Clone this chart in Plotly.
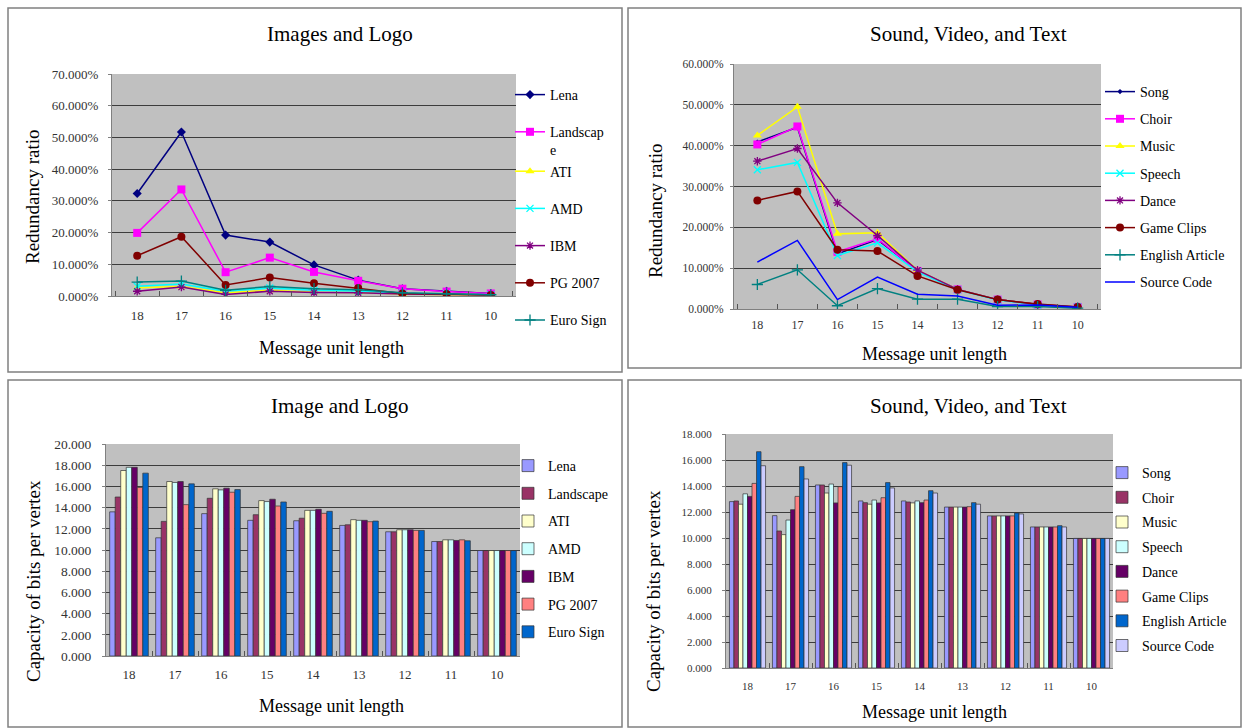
import plotly.graph_objects as go

W, H = 1243, 728

lengths = ["18", "17", "16", "15", "14", "13", "12", "11", "10"]

# ---- Panel 1: redundancy ratio, images and logo (fractions) ----
img_names = ["Lena", "Landscap<br>e", "ATI", "AMD", "IBM", "PG 2007", "Euro Sign"]
red_lena = [0.323, 0.517, 0.192, 0.170, 0.098, 0.050, 0.023, 0.015, 0.008]
red_landscape = [0.199, 0.336, 0.075, 0.121, 0.076, 0.048, 0.023, 0.014, 0.008]
red_ati = [0.026, 0.030, 0.010, 0.018, 0.012, 0.011, 0.006, 0.004, 0.002]
red_amd = [0.031, 0.038, 0.015, 0.025, 0.018, 0.016, 0.009, 0.007, 0.004]
red_ibm = [0.015, 0.028, 0.005, 0.015, 0.011, 0.010, 0.006, 0.005, 0.003]
red_pg = [0.127, 0.187, 0.035, 0.058, 0.040, 0.025, 0.008, 0.006, 0.003]
red_euro = [0.044, 0.047, 0.018, 0.030, 0.023, 0.020, 0.010, 0.007, 0.004]

# ---- Panel 2: redundancy ratio, sound/video/text ----
svt_names = ["Song", "Choir", "Music", "Speech", "Dance", "Game Clips",
             "English Article", "Source Code"]
red_song = [0.409, 0.445, 0.135, 0.170, 0.094, 0.048, 0.023, 0.011, 0.005]
red_choir = [0.403, 0.447, 0.140, 0.172, 0.093, 0.048, 0.023, 0.011, 0.005]
red_music = [0.425, 0.495, 0.184, 0.187, 0.095, 0.048, 0.023, 0.011, 0.005]
red_speech = [0.341, 0.359, 0.131, 0.162, 0.091, 0.047, 0.022, 0.010, 0.005]
red_dance = [0.362, 0.393, 0.260, 0.180, 0.095, 0.048, 0.023, 0.011, 0.005]
red_game = [0.266, 0.288, 0.145, 0.142, 0.081, 0.047, 0.023, 0.012, 0.005]
red_english = [0.060, 0.096, 0.008, 0.050, 0.024, 0.024, 0.006, 0.006, 0.002]
red_source = [0.115, 0.168, 0.023, 0.078, 0.036, 0.032, 0.009, 0.010, 0.004]

# ---- Panel 3: capacity, image and logo ----
cap_lena = [13.6, 11.15, 13.43, 12.8, 12.76, 12.32, 11.72, 10.8, 9.95]
cap_landscape = [15.0, 12.7, 14.88, 13.33, 13.0, 12.38, 11.72, 10.8, 9.95]
cap_ati = [17.5, 16.46, 15.77, 14.66, 13.74, 12.86, 11.91, 10.96, 9.95]
cap_amd = [17.8, 16.37, 15.67, 14.57, 13.74, 12.8, 11.91, 10.96, 9.95]
cap_ibm = [17.8, 16.46, 15.83, 14.79, 13.84, 12.8, 11.91, 10.9, 9.95]
cap_pg = [15.9, 14.28, 15.45, 14.15, 13.46, 12.67, 11.85, 10.96, 9.95]
cap_euro = [17.25, 16.24, 15.7, 14.53, 13.65, 12.73, 11.85, 10.87, 9.95]

# ---- Panel 4: capacity, sound/video/text ----
cap_song = [12.8, 11.72, 14.08, 12.85, 12.85, 12.38, 11.7, 10.85, 9.97]
cap_choir = [12.85, 10.54, 14.08, 12.72, 12.77, 12.38, 11.7, 10.85, 9.97]
cap_music = [12.6, 10.26, 13.46, 12.6, 12.7, 12.38, 11.7, 10.85, 9.97]
cap_speech = [13.4, 11.38, 14.15, 12.92, 12.85, 12.38, 11.7, 10.85, 9.97]
cap_dance = [13.2, 12.18, 12.7, 12.7, 12.72, 12.38, 11.7, 10.85, 9.97]
cap_game = [14.2, 13.2, 13.95, 13.1, 12.92, 12.41, 11.7, 10.85, 9.97]
cap_english = [16.64, 15.49, 15.8, 14.26, 13.64, 12.72, 11.92, 10.95, 9.97]
cap_source = [15.56, 14.54, 15.6, 13.85, 13.46, 12.6, 11.85, 10.85, 9.97]

SERIF = "Liberation Serif"

def px_x(v):
    return v / W

def px_y(v):
    return 1 - v / H

fig = go.Figure()

img_line_styles = [
    ("#000080", "diamond", 7),
    ("#FF00FF", "square", 8),
    ("#FFFF00", "triangle-up", 8),
    ("#00FFFF", "x-thin-open", 7),
    ("#800080", "asterisk-open", 7),
    ("#800000", "circle", 8),
    ("#008080", "cross-thin-open", 8),
]
img_groups = ["a0", "a1", "a1", "a3", "a4", "a5", "a6"]
img_red = [red_lena, red_landscape, red_ati, red_amd, red_ibm, red_pg, red_euro]
for i, (name, vals, (c, sym, sz)) in enumerate(zip(img_names, img_red, img_line_styles)):
    marker = dict(color=c, symbol=sym, size=sz)
    if "open" in sym:
        marker["line"] = dict(color=c, width=1.3)
    fig.add_trace(go.Scatter(
        x=lengths, y=vals, name=name, mode="lines+markers",
        line=dict(color=c, width=1.5), marker=marker,
        xaxis="x", yaxis="y", legend="legend", legendgroup=img_groups[i]))

svt_line_styles = [
    ("#000080", "diamond", 4),
    ("#FF00FF", "square", 8),
    ("#FFFF00", "triangle-up", 8),
    ("#00FFFF", "x-thin-open", 7),
    ("#800080", "asterisk-open", 7),
    ("#800000", "circle", 8),
    ("#008080", "cross-thin-open", 8),
    ("#0000FF", None, 0),
]
svt_red = [red_song, red_choir, red_music, red_speech, red_dance, red_game,
           red_english, red_source]
for i in range(len(svt_names)):
    name, vals, (c, sym, sz) = svt_names[i], svt_red[i], svt_line_styles[i]
    if sym is None:
        fig.add_trace(go.Scatter(
            x=lengths, y=vals, name=name, mode="lines",
            line=dict(color=c, width=1.5),
            xaxis="x2", yaxis="y2", legend="legend2", legendgroup="b%d" % i))
    else:
        marker = dict(color=c, symbol=sym, size=sz)
        if "open" in sym:
            marker["line"] = dict(color=c, width=1.3)
        fig.add_trace(go.Scatter(
            x=lengths, y=vals, name=name, mode="lines+markers",
            line=dict(color=c, width=1.5), marker=marker,
            xaxis="x2", yaxis="y2", legend="legend2", legendgroup="b%d" % i))

bar_colors_img = ["#9999FF", "#993366", "#FFFFCC", "#CCFFFF", "#660066", "#FF8080", "#0066CC"]
img_bar_names = ["Lena", "Landscape", "ATI", "AMD", "IBM", "PG 2007", "Euro Sign"]
img_cap = [cap_lena, cap_landscape, cap_ati, cap_amd, cap_ibm, cap_pg, cap_euro]
for i, (name, vals, c) in enumerate(zip(img_bar_names, img_cap, bar_colors_img)):
    fig.add_trace(go.Bar(
        x=lengths, y=vals, name=name,
        marker=dict(color=c, line=dict(color="#333333", width=0.7)),
        xaxis="x3", yaxis="y3", legend="legend3", legendgroup="c%d" % i))

bar_colors_svt = ["#9999FF", "#993366", "#FFFFCC", "#CCFFFF", "#660066", "#FF8080",
                  "#0066CC", "#CCCCFF"]
svt_cap = [cap_song, cap_choir, cap_music, cap_speech, cap_dance, cap_game,
           cap_english, cap_source]
for i, (name, vals, c) in enumerate(zip(svt_names, svt_cap, bar_colors_svt)):
    fig.add_trace(go.Bar(
        x=lengths, y=vals, name=name,
        marker=dict(color=c, line=dict(color="#333333", width=0.7)),
        xaxis="x4", yaxis="y4", legend="legend4", legendgroup="d%d" % i))

PLOT_BG = "#C0C0C0"
GRID = "#3C3C3C"

def xax(domain, anchor, size, standoff):
    return dict(domain=domain, anchor=anchor, type="category",
                categoryorder="array", categoryarray=lengths,
                showgrid=False, showline=True, linecolor="#808080", linewidth=1,
                ticks="inside", tickson="boundaries", ticklen=5, tickcolor="#555555",
                ticklabelstandoff=standoff, automargin=False,
                tickfont=dict(family=SERIF, size=size, color="#333333"),
                mirror=False, zeroline=False, fixedrange=True)

def yax(domain, anchor, rng, dtick, fmt, size, standoff):
    return dict(domain=domain, anchor=anchor, range=rng, dtick=dtick, tickformat=fmt,
                showgrid=True, gridcolor=GRID, gridwidth=1,
                showline=True, linecolor="#808080", linewidth=1,
                ticks="outside", ticklen=3, tickcolor="#808080",
                ticklabelstandoff=standoff, automargin=False,
                tickfont=dict(family=SERIF, size=size, color="#333333"),
                zeroline=False, fixedrange=True)

# plot areas in pixels (left, right, top, bottom)
p1 = (112, 516, 74, 296)
p2 = (734, 1101, 64, 309)
p3 = (106, 520, 444, 656)
p4 = (726, 1113, 434, 668)

def dom(p):
    return [px_x(p[0]), px_x(p[1])], [px_y(p[3]), px_y(p[2])]

d1x, d1y = dom(p1)
d2x, d2y = dom(p2)
d3x, d3y = dom(p3)
d4x, d4y = dom(p4)

def legend_cfg(x, y, size, gap):
    return dict(x=px_x(x), y=px_y(y), xanchor="left", yanchor="top",
                font=dict(family=SERIF, size=size, color="#000000"),
                bgcolor="rgba(0,0,0,0)", tracegroupgap=gap, itemwidth=30,
                traceorder="grouped", valign="top", itemclick=False)

annotations = []
def ann(text, x, y, size, angle=0):
    annotations.append(dict(text=text, x=px_x(x), y=px_y(y), xref="paper", yref="paper",
                            showarrow=False, textangle=angle,
                            font=dict(family=SERIF, size=size, color="#000000"),
                            xanchor="center", yanchor="middle"))

ann("Images and Logo", 340, 34, 21)
ann("Sound, Video, and Text", 968, 34, 21)
ann("Image and Logo", 340, 406, 21)
ann("Sound, Video, and Text", 968, 406, 21)
ann("Redundancy ratio", 33, 197, 19, -90)
ann("Message unit length", 331, 348, 18)
ann("Redundancy ratio", 655, 211, 19, -90)
ann("Message unit length", 935, 354, 18)
ann("Capacity of bits per vertex", 33, 581, 19, -90)
ann("Message unit length", 331, 706, 18)
ann("Capacity of bits per vertex", 653, 591, 19, -90)
ann("Message unit length", 935, 712, 18)

shapes = []
for (x0, x1, y0, y1) in [(8, 622, 8, 372), (628, 1241, 8, 368),
                         (8, 622, 380, 727), (628, 1241, 380, 727)]:
    shapes.append(dict(type="rect", xref="paper", yref="paper",
                       x0=px_x(x0), x1=px_x(x1), y0=px_y(y1), y1=px_y(y0),
                       line=dict(color="#808080", width=1.5), fillcolor="rgba(0,0,0,0)",
                       layer="below"))

fig.update_layout(
    width=W, height=H,
    margin=dict(l=0, r=0, t=0, b=0, pad=0, autoexpand=False),
    paper_bgcolor="#FFFFFF", plot_bgcolor=PLOT_BG,
    barmode="group", bargap=0.16, bargroupgap=0,
    showlegend=True,
    xaxis=xax(d1x, "y", 13, 7), yaxis=yax(d1y, "x", [0, 0.7], 0.1, ".3%", 13, 7),
    xaxis2=xax(d2x, "y2", 12, 5), yaxis2=yax(d2y, "x2", [0, 0.6], 0.1, ".3%", 11.5, 4),
    xaxis3=xax(d3x, "y3", 13, 6), yaxis3=yax(d3y, "x3", [0, 20], 2, ".3f", 13.5, 8),
    xaxis4=xax(d4x, "y4", 11, 8), yaxis4=yax(d4y, "x4", [0, 18], 2, ".3f", 11, 8),
    legend=legend_cfg(510, 79, 14, 16),
    legend2=legend_cfg(1100, 76, 14, 6),
    legend3=legend_cfg(508, 450, 14, 6.5),
    legend4=legend_cfg(1102, 457, 14, 3.5),
    annotations=annotations, shapes=shapes,
)

post = (
    "var de=document.documentElement, b=document.body;"
    "[de,b].forEach(function(e){e.style.margin='0';e.style.padding='0';"
    "e.style.overflow='hidden';});"
)

fig.write_html("out.html", config={"displayModeBar": False}, post_script=post)
